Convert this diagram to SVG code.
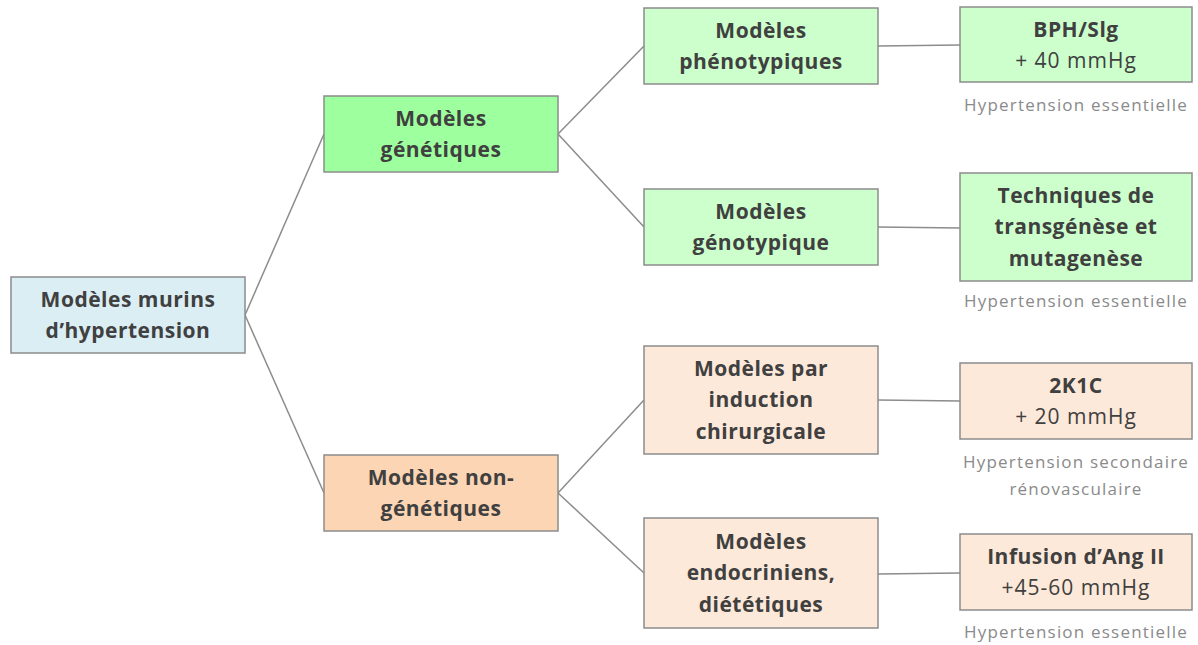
<svg xmlns="http://www.w3.org/2000/svg" width="1198" height="645" viewBox="0 0 1198 645">
<style>
.box{stroke:#8c8c8c;stroke-width:1.5}
.t{font-family:"Open Sans","Liberation Sans",sans-serif;font-weight:bold;font-size:21px;letter-spacing:0.5px;fill:#404040;text-anchor:middle}
.n{font-family:"Open Sans","Liberation Sans",sans-serif;font-size:21px;letter-spacing:1px;fill:#404040;text-anchor:middle}
.g{font-family:"Open Sans","Liberation Sans",sans-serif;font-size:17px;letter-spacing:1.2px;fill:#8a8a8a;text-anchor:middle}
.c{stroke:#8c8c8c;stroke-width:1.5;fill:none}
</style>
<rect width="1198" height="645" fill="#ffffff"/>
<g id="connectors">
<line class="c" x1="245" y1="315" x2="324" y2="134"/>
<line class="c" x1="245" y1="315" x2="324" y2="493"/>
<line class="c" x1="558" y1="134" x2="644" y2="46"/>
<line class="c" x1="558" y1="134" x2="644" y2="227"/>
<line class="c" x1="558" y1="493" x2="644" y2="400"/>
<line class="c" x1="558" y1="493" x2="644" y2="573"/>
<line class="c" x1="878" y1="46" x2="960" y2="45"/>
<line class="c" x1="878" y1="227" x2="960" y2="228"/>
<line class="c" x1="878" y1="400" x2="960" y2="401"/>
<line class="c" x1="878" y1="574" x2="960" y2="573"/>
</g>
<g id="root">
<rect class="box" x="11" y="277" width="234" height="76" fill="#DAEEF3"/>
<text class="t" x="128" y="307">Modèles murins</text>
<text class="t" x="128" y="338">d’hypertension</text>
</g>
<g id="genetiques">
<rect class="box" x="324" y="96" width="234" height="76" fill="#9EFF9E"/>
<text class="t" x="441" y="126">Modèles</text>
<text class="t" x="441" y="157">génétiques</text>
</g>
<g id="non-genetiques">
<rect class="box" x="324" y="455" width="234" height="76" fill="#FCD5B4"/>
<text class="t" x="441" y="485">Modèles non-</text>
<text class="t" x="441" y="516">génétiques</text>
</g>
<g id="phenotypiques">
<rect class="box" x="644" y="8" width="234" height="76" fill="#CCFFCC"/>
<text class="t" x="761" y="38">Modèles</text>
<text class="t" x="761" y="69">phénotypiques</text>
</g>
<g id="genotypique">
<rect class="box" x="644" y="189" width="234" height="76" fill="#CCFFCC"/>
<text class="t" x="761" y="219">Modèles</text>
<text class="t" x="761" y="250">génotypique</text>
</g>
<g id="chirurgicale">
<rect class="box" x="644" y="346" width="234" height="108" fill="#FDE9D9"/>
<text class="t" x="761" y="376">Modèles par</text>
<text class="t" x="761" y="407">induction</text>
<text class="t" x="761" y="439">chirurgicale</text>
</g>
<g id="endocriniens">
<rect class="box" x="644" y="518" width="234" height="110" fill="#FDE9D9"/>
<text class="t" x="761" y="549">Modèles</text>
<text class="t" x="761" y="580">endocriniens,</text>
<text class="t" x="761" y="612">diététiques</text>
</g>
<g id="bph">
<rect class="box" x="960" y="7" width="232" height="75" fill="#CCFFCC"/>
<text class="t" x="1076" y="37">BPH/Slg</text>
<text class="n" x="1076" y="68">+ 40 mmHg</text>
<text class="g" x="1076" y="111">Hypertension essentielle</text>
</g>
<g id="techniques">
<rect class="box" x="960" y="173" width="232" height="108" fill="#CCFFCC"/>
<text class="t" x="1076" y="203">Techniques de</text>
<text class="t" x="1076" y="234">transgénèse et</text>
<text class="t" x="1076" y="266">mutagenèse</text>
<text class="g" x="1076" y="307">Hypertension essentielle</text>
</g>
<g id="k2k1c">
<rect class="box" x="960" y="363" width="232" height="76" fill="#FDE9D9"/>
<text class="t" x="1076" y="393">2K1C</text>
<text class="n" x="1076" y="424">+ 20 mmHg</text>
<text class="g" x="1076" y="468">Hypertension secondaire</text>
<text class="g" x="1076" y="495">rénovasculaire</text>
</g>
<g id="infusion">
<rect class="box" x="960" y="534" width="232" height="76" fill="#FDE9D9"/>
<text class="t" x="1076" y="564">Infusion d’Ang II</text>
<text class="n" x="1076" y="595">+45-60 mmHg</text>
<text class="g" x="1076" y="638">Hypertension essentielle</text>
</g>
</svg>
